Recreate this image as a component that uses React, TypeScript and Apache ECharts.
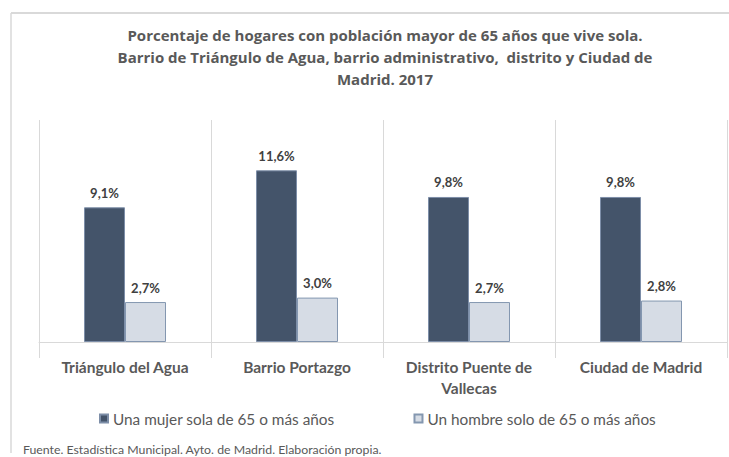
import React, { useEffect, useRef } from "react";
import * as echarts from "echarts";

const categories = ["Triángulo del Agua", "Barrio Portazgo", "Distrito Puente de Vallecas", "Ciudad de Madrid"];
const categoryLabels = ["Triángulo del Agua", "Barrio Portazgo", "Distrito Puente de\nVallecas", "Ciudad de Madrid"];
const mujerValues = [9.1, 11.6, 9.8, 9.8];
const hombreValues = [2.7, 3.0, 2.7, 2.8];
const seriesNames = ["Una mujer sola de 65 o más años", "Un hombre solo de 65 o más años"];
const titleText = "Porcentaje de hogares con población mayor de 65 años que vive sola.\nBarrio de Triángulo de Agua, barrio administrativo,  distrito y Ciudad de\nMadrid. 2017";
const footerText = "Fuente. Estadística Municipal. Ayto. de Madrid. Elaboración propia.";

const FONT = "Lato, 'Open Sans', sans-serif";
const TITLE_FONT = "'Open Sans', Lato, sans-serif";

const fmt = (v: number) => v.toFixed(1).replace(".", ",") + "%";

export default function App() {
  const ref = useRef<HTMLDivElement>(null);
  useEffect(() => {
    if (!ref.current) return;
    const chart = echarts.init(ref.current, undefined, { renderer: "svg" });
    const labelStyle = {
      show: true,
      position: "top" as const,
      distance: 8,
      fontFamily: FONT,
      fontSize: 13,
      fontWeight: "bold" as const,
      color: "#404040",
      formatter: (p: any) => fmt(p.value),
    };
    chart.setOption({
      animation: false,
      backgroundColor: "#ffffff",
      title: {
        text: titleText,
        left: 380,
        top: 19,
        textAlign: "center",
        textStyle: {
          fontFamily: TITLE_FONT,
          fontSize: 15,
          fontWeight: "bold",
          color: "#595959",
          lineHeight: 22,
        },
      },
      legend: {
        left: 99,
        top: 411,
        padding: 0,
        itemWidth: 8,
        itemHeight: 8,
        itemGap: 79,
        icon: "rect",
        textStyle: { fontFamily: FONT, fontSize: 15.35, color: "#595959" },
        data: seriesNames,
      },
      grid: { left: 39, right: 2, top: 120, bottom: 115, containLabel: false },
      xAxis: {
        type: "category",
        data: categories,
        boundaryGap: true,
        axisLine: { show: true, lineStyle: { color: "#d9d9d9", width: 1 } },
        axisTick: { show: true, length: 16, lineStyle: { color: "#d9d9d9" } },
        splitLine: { show: true, lineStyle: { color: "#d9d9d9", width: 1 } },
        axisLabel: {
          margin: 14,
          fontFamily: FONT,
          fontSize: 15.5,
          fontWeight: "bold",
          color: "#595959",
          lineHeight: 21,
          formatter: (v: string) => categoryLabels[categories.indexOf(v)],
        },
      },
      yAxis: {
        type: "value",
        min: 0,
        max: 15,
        show: false,
        splitLine: { show: false },
      },
      series: [
        {
          name: seriesNames[0],
          type: "bar",
          data: mujerValues,
          barWidth: 41,
          barGap: "0%",
          itemStyle: { color: "#44546a", borderColor: "#7d8ea8", borderWidth: 1 },
          label: labelStyle,
        },
        {
          name: seriesNames[1],
          type: "bar",
          data: hombreValues,
          barWidth: 41,
          barGap: "0%",
          itemStyle: { color: "#d6dce5", borderColor: "#8497b0", borderWidth: 1 },
          label: labelStyle,
        },
      ],
      graphic: [
        {
          type: "line",
          shape: { x1: 11, y1: 13, x2: 729, y2: 13 },
          style: { stroke: "#d9d9d9", lineWidth: 2 },
          silent: true,
        },
        {
          type: "line",
          shape: { x1: 11, y1: 13, x2: 11, y2: 453 },
          style: { stroke: "#d9d9d9", lineWidth: 1.5 },
          silent: true,
        },
        {
          type: "text",
          left: 23,
          top: 443,
          style: {
            text: footerText,
            fontFamily: FONT,
            fontSize: 12.3,
            fill: "#595959",
          },
          silent: true,
        },
      ],
    });
    return () => chart.dispose();
  }, []);
  return (
    <div
      ref={ref}
      style={{ position: "fixed", left: 0, top: 0, width: 729, height: 457, background: "#fff" }}
    />
  );
}
